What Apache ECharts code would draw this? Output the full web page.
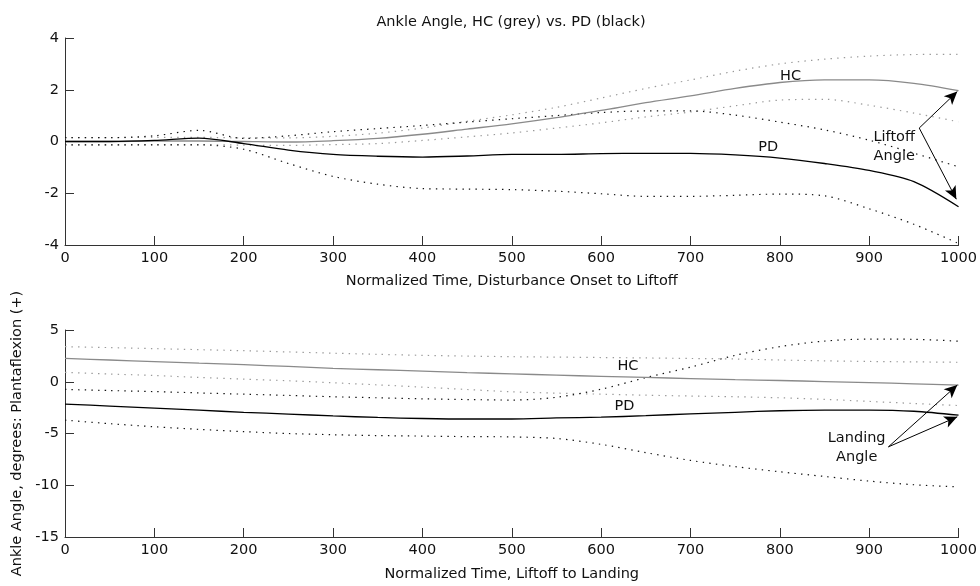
<!DOCTYPE html>
<html>
<head>
<meta charset="utf-8">
<script src="https://cdn.jsdelivr.net/npm/echarts@6/dist/echarts.min.js"></script>
<style>
	html, body { margin: 0; padding: 0; background: #fff; }
	#chart { width: 980px; height: 586px; }
</style>
</head>
<body>
<div id="chart"></div>
<script>
// normalized time samples, shared by both panels
var timePts = [0, 50, 100, 150, 200, 250, 300, 350, 400, 450, 500, 550, 600, 650, 700, 750, 800, 850, 900, 950, 1000];

// top panel: disturbance onset to liftoff
var hcTop   = [0, 0, 0.02, 0.02, 0, -0.02, 0.03, 0.12, 0.28, 0.48, 0.68, 0.92, 1.2, 1.5, 1.76, 2.05, 2.28, 2.38, 2.38, 2.25, 1.97];
var hcTopHi = [0.15, 0.15, 0.16, 0.16, 0.14, 0.14, 0.2, 0.32, 0.52, 0.78, 1.03, 1.32, 1.68, 2.05, 2.38, 2.72, 3.0, 3.18, 3.3, 3.36, 3.37];
var hcTopLo = [-0.13, -0.13, -0.12, -0.12, -0.14, -0.15, -0.12, -0.08, 0.04, 0.18, 0.33, 0.52, 0.72, 0.95, 1.14, 1.38, 1.6, 1.63, 1.4, 1.1, 0.76];
var pdTop   = [0, 0, 0.04, 0.13, -0.08, -0.33, -0.5, -0.57, -0.6, -0.56, -0.5, -0.5, -0.47, -0.46, -0.46, -0.52, -0.64, -0.85, -1.12, -1.55, -2.52];
var pdTopHi = [0.15, 0.15, 0.22, 0.43, 0.12, 0.22, 0.38, 0.5, 0.62, 0.75, 0.88, 1.0, 1.12, 1.18, 1.18, 1.02, 0.75, 0.45, 0.05, -0.45, -0.98];
var pdTopLo = [-0.13, -0.13, -0.13, -0.13, -0.3, -0.85, -1.35, -1.65, -1.82, -1.84, -1.86, -1.92, -2.02, -2.12, -2.12, -2.08, -2.03, -2.1, -2.6, -3.2, -3.94];

// bottom panel: liftoff to landing
var hcBot   = [2.26, 2.1, 1.95, 1.8, 1.65, 1.48, 1.3, 1.16, 1.02, 0.88, 0.76, 0.64, 0.52, 0.42, 0.3, 0.2, 0.12, 0.02, -0.08, -0.2, -0.32];
var hcBotHi = [3.39, 3.3, 3.2, 3.1, 3.0, 2.88, 2.76, 2.65, 2.55, 2.48, 2.42, 2.38, 2.34, 2.3, 2.25, 2.2, 2.1, 2.02, 1.96, 1.92, 1.88];
var hcBotLo = [0.91, 0.75, 0.6, 0.42, 0.25, 0.1, -0.1, -0.3, -0.52, -0.75, -0.97, -1.1, -1.2, -1.3, -1.38, -1.45, -1.55, -1.7, -1.9, -2.1, -2.3];
var pdBot   = [-2.16, -2.35, -2.55, -2.75, -2.95, -3.12, -3.3, -3.45, -3.55, -3.6, -3.6, -3.5, -3.42, -3.28, -3.1, -2.95, -2.8, -2.74, -2.74, -2.85, -3.23];
var pdBotHi = [-0.74, -0.85, -0.95, -1.08, -1.2, -1.32, -1.45, -1.55, -1.65, -1.72, -1.77, -1.5, -0.72, 0.4, 1.41, 2.55, 3.39, 3.93, 4.12, 4.1, 3.92];
var pdBotLo = [-3.71, -4.05, -4.35, -4.6, -4.82, -5.0, -5.12, -5.2, -5.25, -5.3, -5.33, -5.48, -6.05, -6.85, -7.6, -8.2, -8.7, -9.15, -9.6, -9.95, -10.16];

// axis ticks: min, max, step
var xTicks = [0, 1000, 100];
var yTopTicks = [-4, 4, 2];
var yBotTicks = [-15, 5, 5];

// annotations: [text, x, y] and arrows [x0, y0, x1, y1]
var topNotes = [["HC", 812, 2.52], ["PD", 787, -0.22], ["Liftoff\nAngle", 928, -0.22]];
var topArrows = [[956, 0.52, 998.6, 1.93], [956, 0.52, 997.5, -2.23]];
var botNotes = [["HC", 630, 1.52], ["PD", 626, -2.35], ["Landing\nAngle", 886, -6.42]];
var botArrows = [[921.5, -6.29, 998.6, -0.32], [921.5, -6.29, 998.6, -3.39]];

var FONT = "DejaVu Sans";
var FS = 14.5;
var INK = "#111";

function pairs(vals) {
	return timePts.map(function(t, i) { return [t, vals[i]]; });
}

function solid(vals, color, idx) {
	return {
		type: "line", xAxisIndex: idx, yAxisIndex: idx, data: pairs(vals),
		symbol: "none", smooth: 0.3, silent: true,
		lineStyle: { color: color, width: 1.3 }
	};
}

function dotted(vals, color, idx) {
	return {
		type: "line", xAxisIndex: idx, yAxisIndex: idx, data: pairs(vals),
		symbol: "none", smooth: 0.3, silent: true,
		lineStyle: { color: color, width: 1.2, type: [1.4, 5.2] }
	};
}

function notes(list, arrows) {
	return {
		markPoint: {
			silent: true, symbol: "circle", symbolSize: 1,
			itemStyle: { color: "transparent" },
			label: { show: true, position: "inside", formatter: "{b}", color: INK, fontFamily: FONT, fontSize: FS, lineHeight: 19 },
			data: list.map(function(n) { return { name: n[0], coord: [n[1], n[2]] }; })
		},
		markLine: {
			silent: true, symbol: ["none", "arrow"], symbolSize: [9, 13],
			label: { show: false },
			lineStyle: { color: "#000", width: 1, type: "solid" },
			data: arrows.map(function(a) { return [{ coord: [a[0], a[1]] }, { coord: [a[2], a[3]] }]; })
		}
	};
}

function xAxis(idx, name, gap) {
	return {
		type: "value", gridIndex: idx, min: xTicks[0], max: xTicks[1], interval: xTicks[2],
		name: name, nameLocation: "middle", nameGap: gap,
		nameTextStyle: { color: INK, fontFamily: FONT, fontSize: FS },
		axisLine: { onZero: false, lineStyle: { color: "#333" } },
		axisTick: { inside: true, length: 9, lineStyle: { color: "#333" } },
		axisLabel: { color: INK, fontFamily: FONT, fontSize: FS, margin: 6, formatter: function(v) { return String(v); } },
		splitLine: { show: false }
	};
}

function yAxis(idx, ticks, name) {
	return {
		type: "value", gridIndex: idx, min: ticks[0], max: ticks[1], interval: ticks[2],
		name: name, nameLocation: "middle", nameGap: 38, nameRotate: 90,
		nameTextStyle: { color: INK, fontFamily: FONT, fontSize: FS },
		axisLine: { show: true, onZero: false, lineStyle: { color: "#333" } },
		axisTick: { show: true, inside: true, length: 9, lineStyle: { color: "#333" } },
		axisLabel: { color: INK, fontFamily: FONT, fontSize: FS, margin: 6 },
		splitLine: { show: false }
	};
}

var myChart = echarts.init(document.getElementById("chart"));

var hcTopLine = solid(hcTop, "#8a8a8a", 0);
var pdTopLine = Object.assign(solid(pdTop, "#000", 0), notes(topNotes, topArrows));
var hcBotLine = solid(hcBot, "#8a8a8a", 1);
var pdBotLine = Object.assign(solid(pdBot, "#000", 1), notes(botNotes, botArrows));

var option = {
	animation: false,
	backgroundColor: "#fff",
	title: {
		text: "Ankle Angle, HC (grey) vs. PD (black)",
		left: 506, top: 10, textAlign: "center",
		textStyle: { color: INK, fontFamily: FONT, fontSize: FS, fontWeight: "normal" }
	},
	grid: [
		{ left: 65, right: 21, top: 38, height: 207 },
		{ left: 65, right: 21, top: 330, height: 207 }
	],
	xAxis: [
		xAxis(0, "Normalized Time, Disturbance Onset to Liftoff", 29),
		xAxis(1, "Normalized Time, Liftoff to Landing", 30)
	],
	yAxis: [
		yAxis(0, yTopTicks, ""),
		yAxis(1, yBotTicks, "Ankle Angle, degrees: Plantaflexion (+)")
	],
	series: [
		dotted(hcTopHi, "#999", 0),
		dotted(hcTopLo, "#999", 0),
		dotted(pdTopHi, "#111", 0),
		dotted(pdTopLo, "#111", 0),
		hcTopLine,
		pdTopLine,
		dotted(hcBotHi, "#999", 1),
		dotted(hcBotLo, "#999", 1),
		dotted(pdBotHi, "#111", 1),
		dotted(pdBotLo, "#111", 1),
		hcBotLine,
		pdBotLine
	]
};

myChart.setOption(option);

window.addEventListener("resize", function() {
	myChart.resize();
});
</script>
</body>
</html>
